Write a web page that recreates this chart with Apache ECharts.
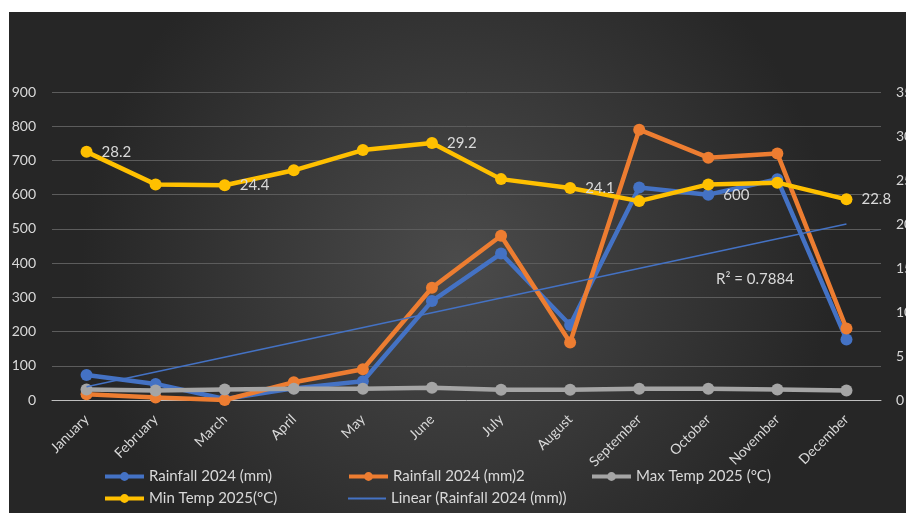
<!DOCTYPE html>
<html>
<head>
<meta charset="utf-8">
<script src="https://cdn.jsdelivr.net/npm/echarts@6/dist/echarts.min.js"></script>
<style>
  html, body { margin: 0; padding: 0; background: #ffffff; width: 906px; height: 513px; overflow: hidden; }
  #chart { position: absolute; left: 9px; top: 12px; width: 897px; height: 501px; }
</style>
</head>
<body>
<div id="chart"></div>
<script>
const categories = ['January','February','March','April','May','June','July','August','September','October','November','December'];
const rainfall2024 = [73, 47, 3, 34, 55, 289, 428, 219, 621, 600, 645, 177];
const rainfall2024b = [17, 7, 0, 52, 90, 328, 480, 168, 790, 708, 720, 209];
const maxTemp2025 = [31, 28, 31, 33, 33, 36, 30, 30, 33, 33, 31, 28];
const minTemp2025 = [28.2, 24.5, 24.4, 26.1, 28.4, 29.2, 25.1, 24.1, 22.6, 24.5, 24.7, 22.8];
const trendStartEnd = [39, 514];
const leftTicks = [0, 900, 100];
const rightTicks = [0, 35, 5];
const minTempLabelIdx = [0, 2, 5, 7, 11];
const rainLabelIdx = [9];
const seriesNames = ['Rainfall 2024 (mm)', 'Rainfall 2024 (mm)2', 'Max Temp 2025 (°C)', 'Min Temp 2025(°C)', 'Linear (Rainfall 2024 (mm))'];

const FONT = 'Lato, "Open Sans", sans-serif';
const TXT = '#d9d9d9';

function withLabels(arr, idx) {
  return arr.map((v, i) => idx.includes(i) ? { value: v, label: { show: true } } : v);
}

const labelStyle = { show: false, position: 'right', distance: 9, color: TXT, fontSize: 15, fontFamily: FONT };

function lineSeries(name, data, color, yAxisIndex, z) {
  return {
    name, type: 'line', data, yAxisIndex, z,
    symbol: 'circle', symbolSize: 12,
    lineStyle: { color, width: 4.5 },
    itemStyle: { color },
    label: labelStyle,
    emphasis: { disabled: true },
    animation: false
  };
}

const chart = echarts.init(document.getElementById('chart'));
const legendBase = {
  itemWidth: 39, itemHeight: 11, itemGap: 0, padding: 0,
  textStyle: { color: TXT, fontSize: 15, fontFamily: FONT },
  lineStyle: { width: 4 },
  selectedMode: false
};
chart.setOption({
  backgroundColor: {
    type: 'radial', x: 0.5, y: 0.5, r: 0.75,
    colorStops: [{ offset: 0, color: '#4b4b4b' }, { offset: 1, color: '#262626' }]
  },
  textStyle: { fontFamily: FONT },
  grid: { left: 43, right: 25, top: 80, bottom: 113, outerBoundsMode: 'none', containLabel: false },
  xAxis: {
    type: 'category', data: categories, boundaryGap: true,
    axisLine: { show: true, lineStyle: { color: '#bfbfbf', width: 1 } },
    axisTick: { show: false },
    axisLabel: { rotate: 45, margin: 17, color: TXT, fontSize: 14, fontFamily: FONT, interval: 0 }
  },
  yAxis: [
    {
      type: 'value', min: leftTicks[0], max: leftTicks[1], interval: leftTicks[2],
      axisLine: { show: false }, axisTick: { show: false },
      splitLine: { show: true, lineStyle: { color: '#5c5c5c', width: 1 } },
      axisLabel: { color: TXT, fontSize: 14, fontFamily: FONT, margin: 16 }
    },
    {
      type: 'value', min: rightTicks[0], max: rightTicks[1], interval: rightTicks[2],
      axisLine: { show: false }, axisTick: { show: false },
      splitLine: { show: false },
      axisLabel: { color: TXT, fontSize: 14, fontFamily: FONT, margin: 15 }
    }
  ],
  legend: [
    Object.assign({ data: [seriesNames[0]], left: 94, top: 457 }, legendBase),
    Object.assign({ data: [seriesNames[1]], left: 338, top: 457 }, legendBase),
    Object.assign({ data: [seriesNames[2]], left: 581, top: 457 }, legendBase),
    Object.assign({ data: [seriesNames[3]], left: 94, top: 479 }, legendBase),
    Object.assign({}, legendBase, {
      data: [{ name: seriesNames[4], icon: 'rect' }], left: 339, top: 479,
      itemHeight: 2, itemWidth: 38
    })
  ],
  series: [
    lineSeries(seriesNames[0], withLabels(rainfall2024, rainLabelIdx), '#4472C4', 0, 2),
    lineSeries(seriesNames[1], rainfall2024b, '#ED7D31', 0, 3),
    lineSeries(seriesNames[2], maxTemp2025, '#A5A5A5', 0, 4),
    lineSeries(seriesNames[3], withLabels(minTemp2025, minTempLabelIdx), '#FFC000', 1, 6),
    {
      name: seriesNames[4], type: 'line', yAxisIndex: 0, z: 5,
      data: [[0, trendStartEnd[0]], [categories.length - 1, trendStartEnd[1]]],
      symbol: 'none', lineStyle: { color: '#4472C4', width: 1.5 },
      itemStyle: { color: '#4472C4' },
      emphasis: { disabled: true }, animation: false
    }
  ],
  graphic: [
    {
      type: 'text', left: 707, top: 260,
      style: { text: 'R² = 0.7884', fill: TXT, fontSize: 15, fontFamily: FONT }
    }
  ]
});
</script>
</body>
</html>
